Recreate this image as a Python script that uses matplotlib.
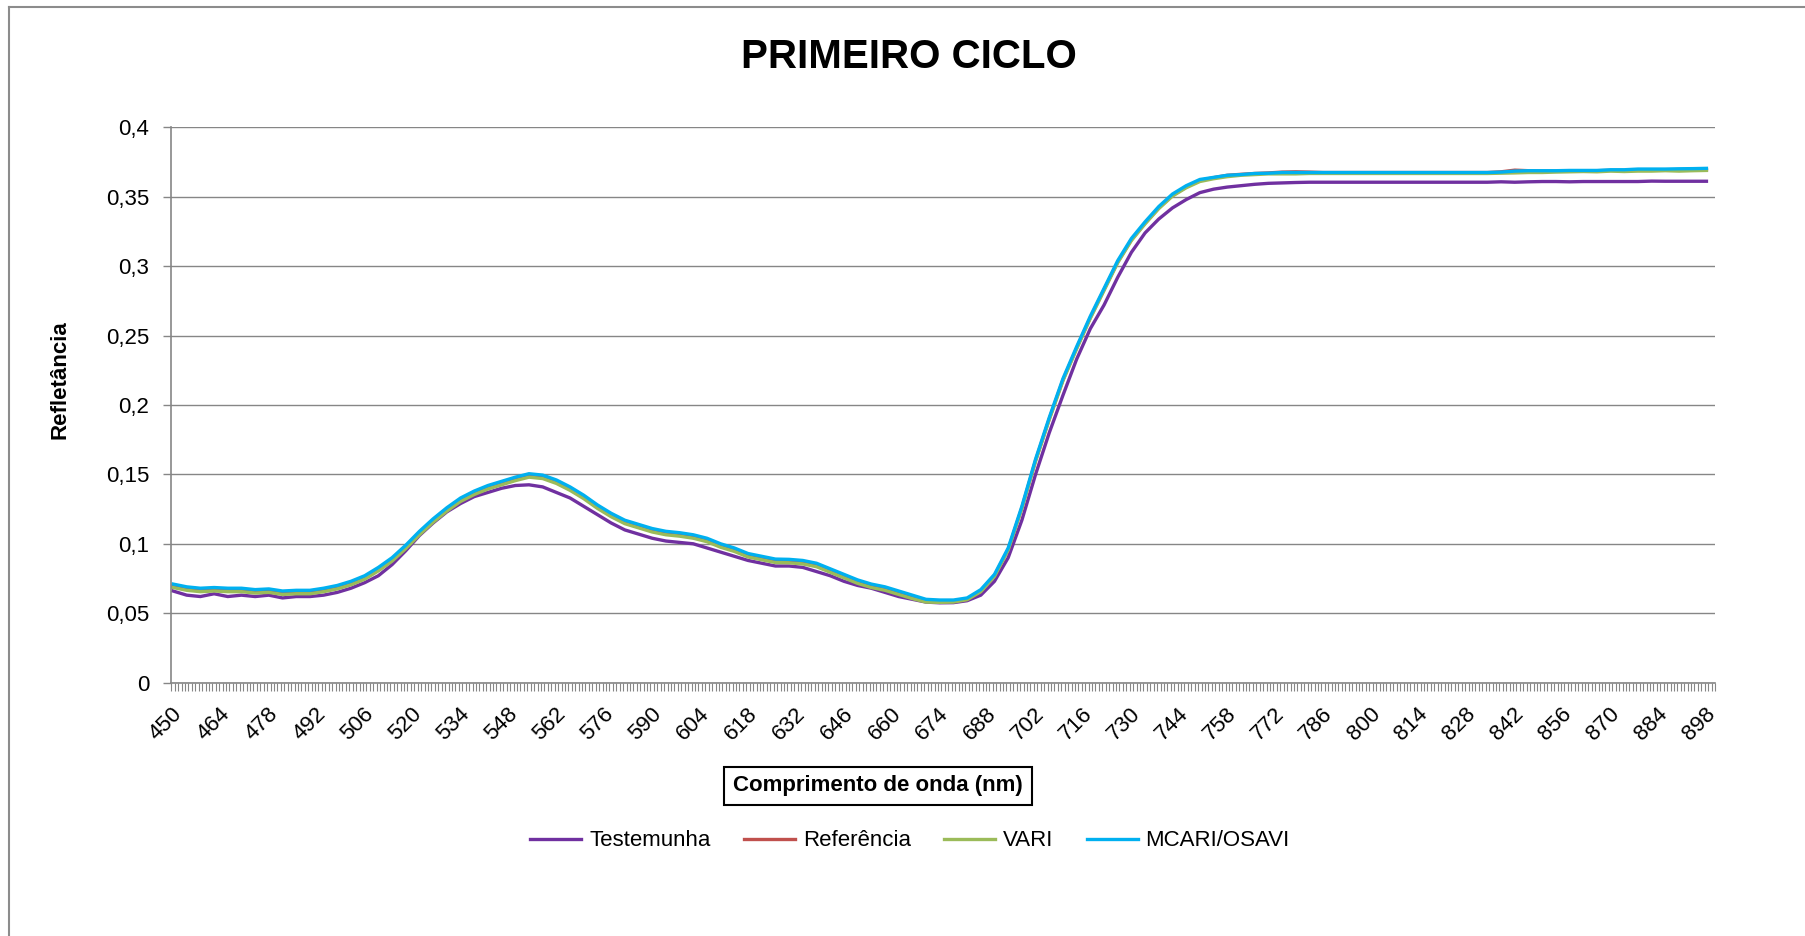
import matplotlib.pyplot as plt
import numpy as np
from matplotlib.lines import Line2D
from matplotlib.transforms import ScaledTranslation

# wavelengths sampled every 4 nm (450 ... 898)
wavelengths = np.arange(450, 899, 4)

testemunha = [
    0.066, 0.063, 0.062, 0.064, 0.062, 0.063, 0.062, 0.063, 0.061, 0.062,
    0.062, 0.063, 0.065, 0.068, 0.072, 0.077, 0.085, 0.095, 0.106, 0.115,
    0.123, 0.129, 0.134, 0.137, 0.140, 0.142, 0.1425, 0.141, 0.137, 0.133,
    0.127, 0.121, 0.115, 0.110, 0.107, 0.104, 0.102, 0.101, 0.100, 0.097,
    0.094, 0.091, 0.088, 0.086, 0.084, 0.084, 0.083, 0.080, 0.077, 0.073,
    0.070, 0.068, 0.065, 0.062, 0.060, 0.058, 0.0575, 0.0576, 0.059, 0.063,
    0.073, 0.090, 0.117, 0.150, 0.180, 0.207, 0.233, 0.255, 0.272, 0.292,
    0.310, 0.324, 0.334, 0.342, 0.348, 0.353, 0.3555, 0.357, 0.358, 0.359,
    0.3597, 0.360, 0.3603, 0.3605, 0.3605, 0.3605, 0.3605, 0.3605, 0.3605, 0.3605,
    0.3605, 0.3605, 0.3605, 0.3605, 0.3605, 0.3605, 0.3605, 0.3608, 0.3605, 0.3608,
    0.361, 0.361, 0.3608, 0.361, 0.361, 0.361, 0.361, 0.361, 0.3613, 0.3612,
    0.3612, 0.3612, 0.3612,
]

referencia = [
    0.0695, 0.0675, 0.0665, 0.067, 0.0665, 0.0665, 0.0655, 0.066, 0.0645, 0.065,
    0.065, 0.0665, 0.0685, 0.0715, 0.0755, 0.0815, 0.0885, 0.0975, 0.1075, 0.1165,
    0.1245, 0.1315, 0.1365, 0.1405, 0.1435, 0.1465, 0.149, 0.148, 0.1445, 0.1395,
    0.1335, 0.1265, 0.1205, 0.1155, 0.1125, 0.1095, 0.1075, 0.1065, 0.105, 0.1025,
    0.0985, 0.0955, 0.0915, 0.0895, 0.0875, 0.0873, 0.0865, 0.0845, 0.0805, 0.0765,
    0.0725, 0.0695, 0.0675, 0.0645, 0.0615, 0.0588, 0.0585, 0.0585, 0.0602, 0.066,
    0.077, 0.096, 0.126, 0.160, 0.190, 0.218, 0.241, 0.263, 0.283, 0.303,
    0.319, 0.331, 0.342, 0.351, 0.357, 0.3618, 0.3638, 0.3655, 0.3662, 0.3668,
    0.3672, 0.3678, 0.368, 0.3678, 0.3675, 0.3675, 0.3675, 0.3675, 0.3675, 0.3675,
    0.3675, 0.3675, 0.3675, 0.3675, 0.3675, 0.3675, 0.3675, 0.368, 0.3692, 0.3688,
    0.3685, 0.3685, 0.3688, 0.3688, 0.3688, 0.369, 0.369, 0.3692, 0.3695, 0.3695,
    0.3695, 0.3695, 0.3695,
]

vari = [
    0.0685, 0.0665, 0.0655, 0.066, 0.0655, 0.0655, 0.0645, 0.065, 0.0635, 0.064,
    0.064, 0.0655, 0.0675, 0.0705, 0.0745, 0.0805, 0.0875, 0.0965, 0.1065, 0.1155,
    0.1235, 0.1305, 0.1355, 0.1395, 0.1425, 0.1455, 0.148, 0.147, 0.1435, 0.1385,
    0.1325, 0.1255, 0.1195, 0.1145, 0.1115, 0.1085, 0.1065, 0.1055, 0.104, 0.1015,
    0.0975, 0.0945, 0.0905, 0.0885, 0.0865, 0.0863, 0.0855, 0.0835, 0.0795, 0.0755,
    0.0715, 0.0685, 0.0665, 0.0635, 0.0605, 0.058, 0.0578, 0.058, 0.0597, 0.0655,
    0.0765, 0.0955, 0.1255, 0.1595, 0.1895, 0.2175, 0.2405, 0.2625, 0.2825, 0.3025,
    0.3185, 0.3305, 0.3415, 0.3505, 0.3565, 0.361, 0.363, 0.3645, 0.3655, 0.366,
    0.3665, 0.3665, 0.3665, 0.3668, 0.3668, 0.3668, 0.3668, 0.3668, 0.3668, 0.3668,
    0.3668, 0.3668, 0.3668, 0.3668, 0.3668, 0.3668, 0.3668, 0.367, 0.3672, 0.3675,
    0.3675, 0.3678, 0.368, 0.3682, 0.368, 0.3685, 0.3682, 0.3685, 0.3685, 0.3688,
    0.3685, 0.3688, 0.369,
]

mcari_osavi = [
    0.071, 0.069, 0.068, 0.0685, 0.068, 0.068, 0.067, 0.0675, 0.066, 0.0665,
    0.0665, 0.068, 0.070, 0.073, 0.077, 0.083, 0.090, 0.099, 0.109, 0.118,
    0.126, 0.133, 0.138, 0.142, 0.145, 0.148, 0.1505, 0.1495, 0.146, 0.141,
    0.135, 0.128, 0.122, 0.117, 0.114, 0.111, 0.109, 0.108, 0.1065, 0.104,
    0.100, 0.097, 0.093, 0.091, 0.089, 0.0888, 0.088, 0.086, 0.082, 0.078,
    0.074, 0.071, 0.069, 0.066, 0.063, 0.060, 0.0595, 0.0595, 0.061, 0.067,
    0.078, 0.097, 0.127, 0.161, 0.191, 0.219, 0.242, 0.264, 0.284, 0.304,
    0.320, 0.332, 0.343, 0.352, 0.358, 0.3625, 0.364, 0.3655, 0.366, 0.3668,
    0.367, 0.3675, 0.3675, 0.3675, 0.3675, 0.3675, 0.3675, 0.3675, 0.3675, 0.3675,
    0.3675, 0.3675, 0.3675, 0.3675, 0.3675, 0.3675, 0.3675, 0.3678, 0.3685, 0.3688,
    0.3688, 0.3688, 0.369, 0.369, 0.369, 0.3695, 0.3695, 0.370, 0.370, 0.370,
    0.3702, 0.3703, 0.3705,
]

series_names = ['Testemunha', 'Referência', 'VARI', 'MCARI/OSAVI']
series_colors = ['#7030A0', '#C0504D', '#9BBB59', '#00B0F0']

y_ticks = [0, 0.05, 0.1, 0.15, 0.2, 0.25, 0.3, 0.35, 0.4]
y_labels = ['0', '0,05', '0,1', '0,15', '0,2', '0,25', '0,3', '0,35', '0,4']
x_label_ticks = list(range(450, 899, 14))

plt.rcParams['font.family'] = ['Liberation Sans Narrow', 'Liberation Sans', 'DejaVu Sans']

W, H = 1805, 936
fig = plt.figure(figsize=(W / 100, H / 100), dpi=100)
ax = fig.add_axes([171.3 / W, 1 - 682.6 / H, (1715 - 171.3) / W, (682.6 - 127.4) / H])

for vals, name, col in zip([testemunha, referencia, vari, mcari_osavi], series_names, series_colors):
    ax.plot(wavelengths, vals, color=col, lw=2.4, label=name, solid_joinstyle='round')

ax.set_xlim(449.5, 900.5)
ax.set_ylim(0, 0.4)

grey = '#868686'
ax.set_yticks(y_ticks)
ax.set_yticklabels(y_labels, fontsize=16)
ax.yaxis.grid(True, color=grey, lw=1.0)
ax.set_axisbelow(True)
ax.tick_params(axis='y', length=6, width=1, color=grey, pad=10)

ax.set_xticks(x_label_ticks)
ax.set_xticklabels([str(v) for v in x_label_ticks], fontsize=16, rotation=45,
                   ha='right', va='center', rotation_mode='anchor')
ax.set_xticks(np.arange(449.5, 901, 1), minor=True)
ax.tick_params(axis='x', which='major', length=0, pad=19)
ax.tick_params(axis='x', which='minor', length=6, width=0.8, color=grey)
# nudge rotated labels so their top-right end sits by the tick
shift = ScaledTranslation(6 / 100, -2 / 100, fig.dpi_scale_trans)
for lab in ax.get_xticklabels():
    lab.set_transform(lab.get_transform() + shift)

for s in ['top', 'right']:
    ax.spines[s].set_visible(False)
for s in ['left', 'bottom']:
    ax.spines[s].set_color(grey)
    ax.spines[s].set_linewidth(1.2)

fig.text(909 / W, 1 - 57 / H, 'PRIMEIRO CICLO', ha='center', va='center',
         fontsize=29, fontweight='bold')
fig.text(60 / W, 1 - 380 / H, 'Refletância', rotation=90, ha='center', va='center',
         fontsize=16, fontweight='bold')
fig.text(878 / W, 1 - 786 / H, 'Comprimento de onda (nm)', ha='center', va='center',
         fontsize=16, fontweight='bold',
         bbox=dict(boxstyle='square,pad=0.4', fc='white', ec='black', lw=1.5))

fig.legend(loc='center', bbox_to_anchor=(910 / W, 1 - 841 / H), ncol=4, frameon=False,
           fontsize=16, handlelength=2.3, handletextpad=0.35, columnspacing=1.5)

# outer chart border (left and top edges visible)
fig.add_artist(Line2D([9 / W, 9 / W], [0, 1 - 7 / H], transform=fig.transFigure,
                      color='#8c8c8c', lw=1.5))
fig.add_artist(Line2D([9 / W, 1], [1 - 7 / H, 1 - 7 / H], transform=fig.transFigure,
                      color='#8c8c8c', lw=1.5))

fig.savefig('out.png', dpi=100)
